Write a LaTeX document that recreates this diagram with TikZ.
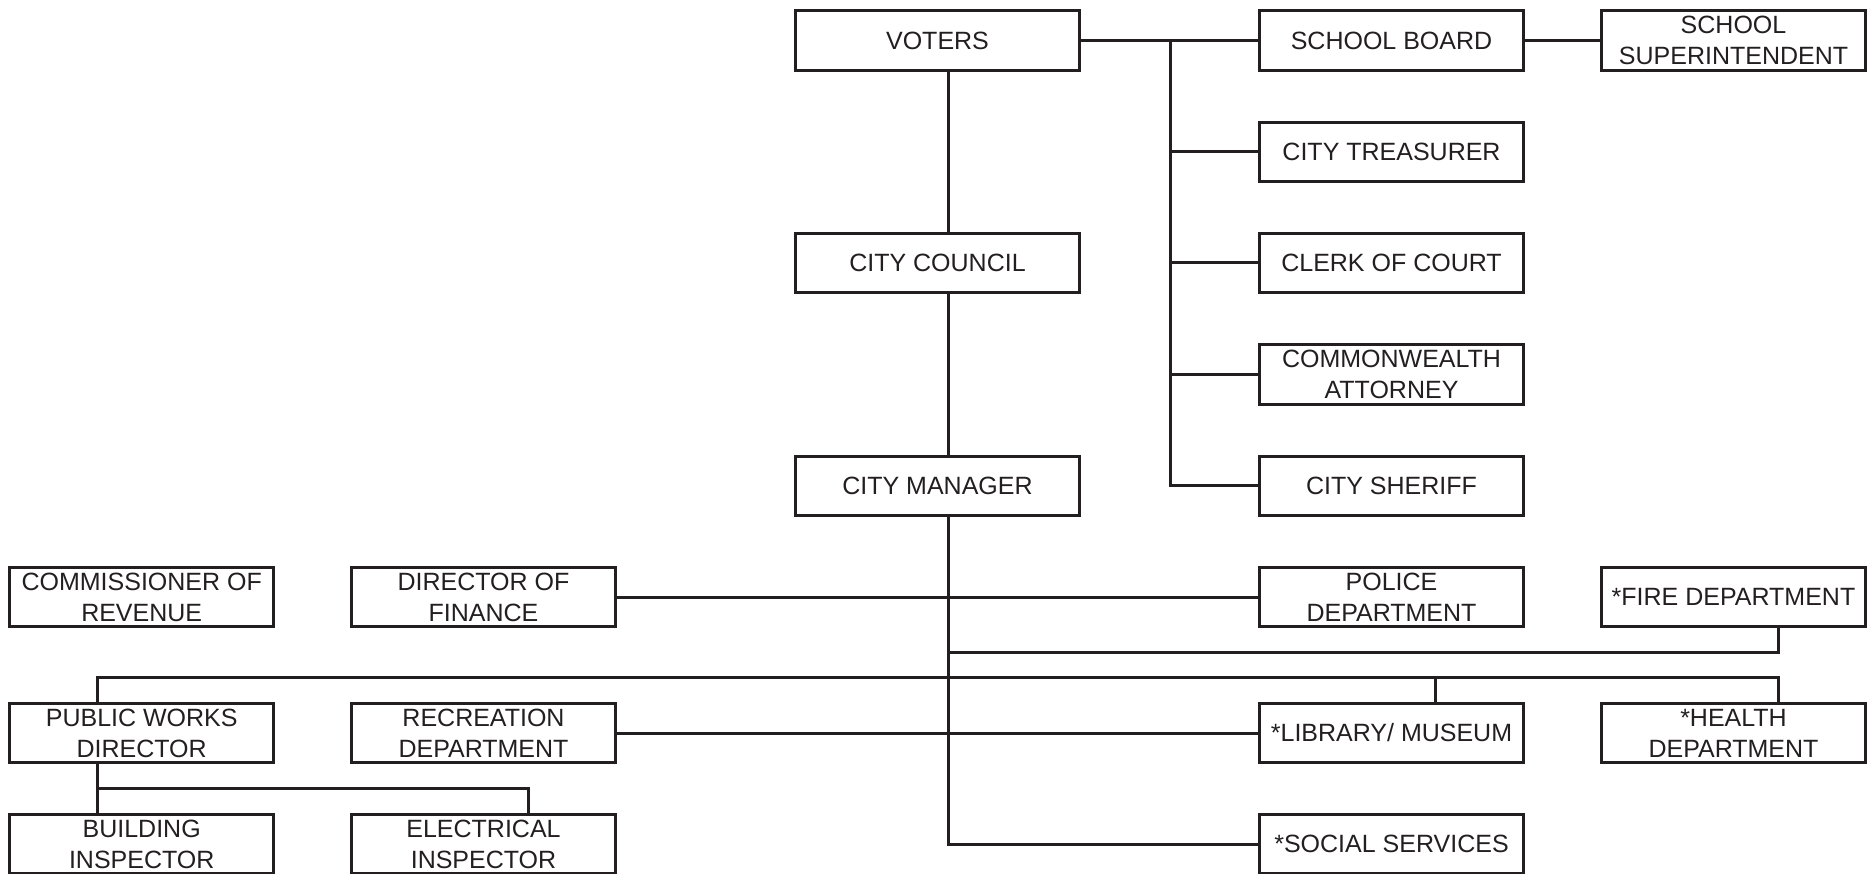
\documentclass[tikz,border=0pt]{standalone}
\usepackage{fontspec}
\setmainfont{Liberation Sans}
\definecolor{ink}{RGB}{35,31,32}
\begin{document}
\begin{tikzpicture}[x=1pt,y=-1pt,
  box/.style={draw=ink, line width=3pt, minimum height=59.5pt, inner sep=0pt,
    align=center, text=ink, font=\fontsize{25}{31}\selectfont},
  wbox/.style={box, minimum width=284pt},
  nbox/.style={box, minimum width=264pt},
  conn/.style={draw=ink, line width=3pt, line join=miter}]
\useasboundingbox (0,0) rectangle (1874,874);
\clip (0,0) rectangle (1874,874);
% main column
\node[wbox] (voters)  at (937.5,40.5) {VOTERS};
\node[wbox] (council) at (937.5,263)  {CITY COUNCIL};
\node[wbox] (manager) at (937.5,485.8) {CITY MANAGER};
% right column
\node[nbox] (schoolboard)    at (1391.5,40.5) {SCHOOL BOARD};
\node[nbox] (superintendent) at (1733.5,40.5) {SCHOOL\\SUPERINTENDENT};
\node[nbox] (treasurer)      at (1391.5,152)  {CITY TREASURER};
\node[nbox] (clerk)          at (1391.5,263)  {CLERK OF COURT};
\node[nbox] (commonwealth)   at (1391.5,374.3) {COMMONWEALTH\\ATTORNEY};
\node[nbox] (sheriff)        at (1391.5,485.8) {CITY SHERIFF};
\node[nbox] (police)         at (1391.5,597)  {POLICE\\DEPARTMENT};
\node[nbox] (fire)           at (1733.5,597)  {*FIRE DEPARTMENT};
\node[nbox] (library)        at (1391.5,733)  {*LIBRARY/ MUSEUM};
\node[nbox] (health)         at (1733.5,733)  {*HEALTH\\DEPARTMENT};
\node[nbox] (social)         at (1391.5,844)  {*SOCIAL SERVICES};
% left columns
\node[nbox] (commissioner) at (141.7,597) {COMMISSIONER OF\\REVENUE};
\node[nbox] (finance)      at (483.5,597) {DIRECTOR OF\\FINANCE};
\node[nbox] (pw)           at (141.7,733) {PUBLIC WORKS\\DIRECTOR};
\node[nbox] (recreation)   at (483.5,733) {RECREATION\\DEPARTMENT};
\node[nbox] (building)     at (141.7,844) {BUILDING\\INSPECTOR};
\node[nbox] (electrical)   at (483.5,844) {ELECTRICAL\\INSPECTOR};
% helper coordinates
\coordinate (mx) at (948,0);
\coordinate (tx) at (1170,0);
\coordinate (fx) at (1778.6,0);
\coordinate (fy) at (0,652.3);
\coordinate (by) at (0,677);
\coordinate (px) at (97.5,0);
\coordinate (lx) at (1435.7,0);
\coordinate (ey) at (0,788.3);
\coordinate (ex) at (528.6,0);
% connectors
\draw[conn] (voters.east) -- (schoolboard.west);
\draw[conn] (schoolboard.east) -- (superintendent.west);
\draw[conn] (voters.east -| tx) |- (sheriff.west);
\foreach \n in {treasurer,clerk,commonwealth}
  \draw[conn] (\n.west -| tx) -- (\n.west);
\draw[conn] (voters.south -| mx) -- (council.north -| mx);
\draw[conn] (council.south -| mx) -- (manager.north -| mx);
\draw[conn] (manager.south -| mx) |- (social.west);
\draw[conn] (finance.east) -- (police.west);
\draw[conn] (recreation.east) -- (library.west);
\draw[conn] (fire.south -| fx) |- (fy -| mx);
\draw[conn] (pw.north -| px) |- (by -| fx) -- (health.north -| fx);
\draw[conn] (by -| lx) -- (library.north -| lx);
\draw[conn] (pw.south -| px) -- (building.north -| px);
\draw[conn] (ey -| px) -| (electrical.north -| ex);
\end{tikzpicture}
\end{document}
